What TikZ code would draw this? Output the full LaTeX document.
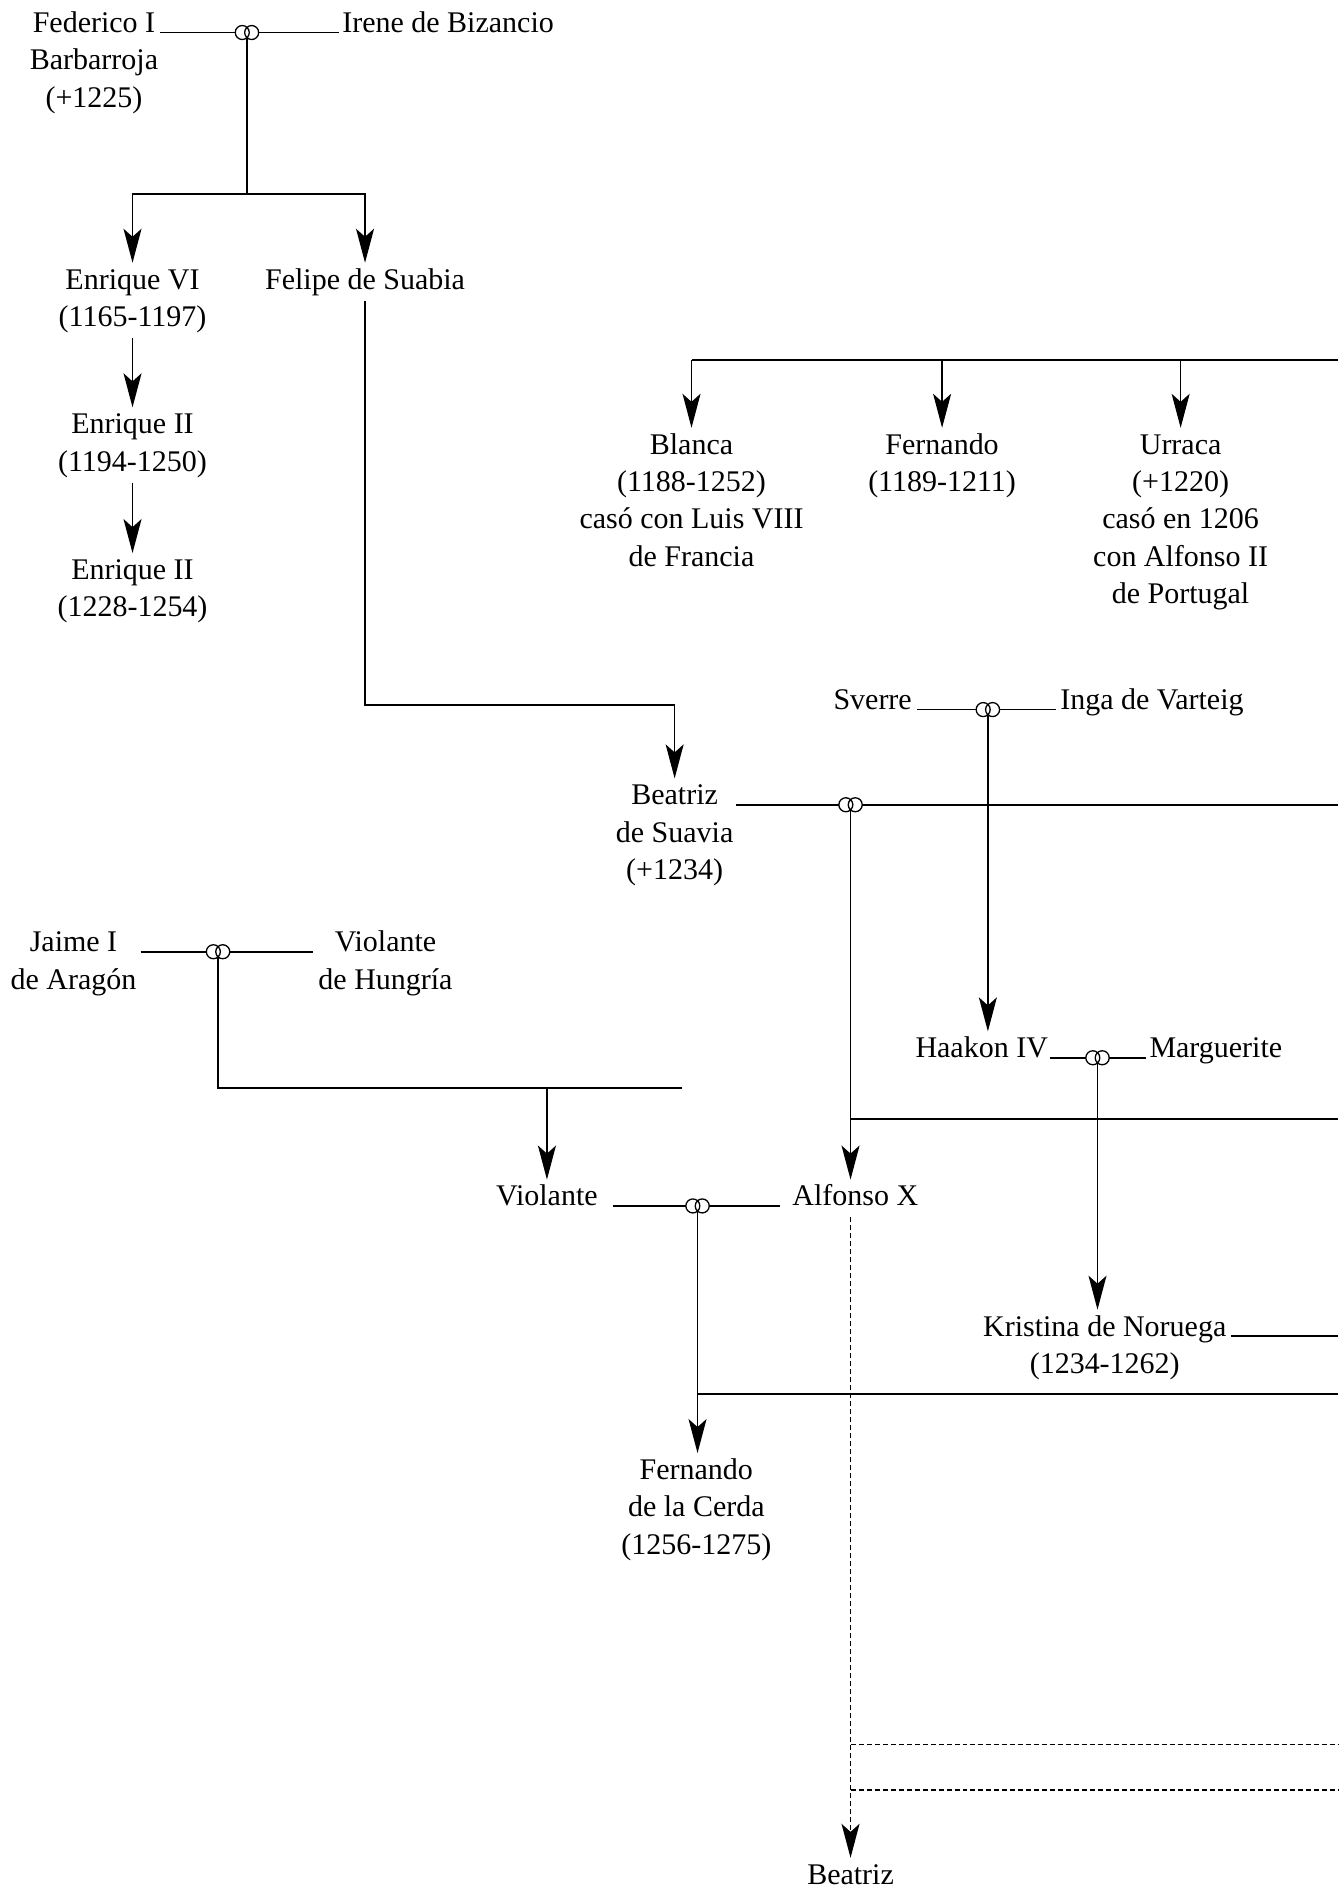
\documentclass[tikz,border=0pt]{standalone}
\usepackage{fontspec}
\setmainfont{Liberation Serif}
\usetikzlibrary{arrows.meta,calc}
\newcommand\ptext[1]{\begin{tabular}[t]{@{}c@{}}#1\end{tabular}}
\tikzset{
 person/.style={inner sep=0pt,font=\fontsize{30}{37.4}\selectfont},
 conn/.style={line width=1.6pt},
 arr/.style={conn,-{Stealth[length=34pt,width=18pt,inset=8pt]}},
 dash line/.style={conn,dash pattern=on 5pt off 3pt},
 ring/.style={line width=1.3pt}
}
\newcommand\rings[1]{%
  \fill[white] ([xshift=-4.7pt]#1) circle (7pt) ([xshift=4.7pt]#1) circle (7pt);
  \draw[ring] ([xshift=-4.7pt]#1) circle (7pt) ([xshift=4.7pt]#1) circle (7pt);}
\begin{document}
\begin{tikzpicture}[x=1.2052pt,y=-1.2052pt]
\useasboundingbox (0,0) rectangle (1111,1568);
\coordinate (E) at (1111,0);
% people
\node[person,anchor=base] (fed) at (78,27) {\ptext{Federico I\\Barbarroja\\(+1225)}};
\node[person,anchor=base west] (irene) at (284,27) {\ptext{Irene de Bizancio}};
\coordinate (m1) at (205,27);
\coordinate (b1) at (205,161);
\node[person,anchor=base] (enr6) at (110,240) {\ptext{Enrique VI\\(1165-1197)}};
\node[person,anchor=base] (felipe) at (303,240) {\ptext{Felipe de Suabia}};
\node[person,anchor=base] (enr2a) at (110,360) {\ptext{Enrique II\\(1194-1250)}};
\node[person,anchor=base] (enr2b) at (110,481) {\ptext{Enrique II\\(1228-1254)}};
\node[person,anchor=base] (blanca) at (574,377) {\ptext{Blanca\\(1188-1252)\\casó con Luis VIII\\de Francia}};
\node[person,anchor=base] (fern) at (782,377) {\ptext{Fernando\\(1189-1211)}};
\node[person,anchor=base] (urraca) at (980,377) {\ptext{Urraca\\(+1220)\\casó en 1206\\con Alfonso II\\de Portugal}};
\coordinate (tr) at (574,299);
\node[person,anchor=base east] (sverre) at (757,589) {\ptext{Sverre}};
\coordinate (ms) at (820,589);
\node[person,anchor=base west] (inga) at (880,589) {\ptext{Inga de Varteig}};
\node[person,anchor=base] (bea) at (560,668) {\ptext{Beatriz\\de Suavia\\(+1234)}};
\coordinate (mb) at (706,668);
\coordinate (fb) at (303,585);
\coordinate (hk) at (706,929);
\node[person,anchor=base east] (haakon) at (870,878) {\ptext{Haakon IV}};
\coordinate (mh) at (911,878);
\node[person,anchor=base west] (marg) at (954,878) {\ptext{Marguerite}};
\node[person,anchor=base] (kris) at (917,1109) {\ptext{Kristina de Noruega\\(1234-1262)}};
\node[person,anchor=base] (jaime) at (61,790) {\ptext{Jaime I\\de Aragón}};
\coordinate (mj) at (181,790);
\node[person,anchor=base] (vhung) at (320,790) {\ptext{Violante\\de Hungría}};
\coordinate (jv) at (181,903);
\coordinate (jvend) at (566,903);
\node[person,anchor=base] (vio) at (454,1001) {\ptext{Violante}};
\coordinate (mv) at (579,1001);
\node[person,anchor=base] (alf) at (710,1001) {\ptext{Alfonso X}};
\coordinate (fk) at (579,1157);
\node[person,anchor=base] (fdc) at (578,1228) {\ptext{Fernando\\de la Cerda\\(1256-1275)}};
\node[person,anchor=base] (bea2) at (706,1564) {\ptext{Beatriz}};
\coordinate (d1) at (706,1448);
\coordinate (d2) at (706,1486);
% connectors
\draw[conn] ([xshift=2pt]fed.base east) -- (m1) -- ([xshift=-3pt]irene.base west);
\draw[conn] (m1) -- (b1);
\draw[arr] (b1) -| (enr6.north);
\draw[arr] (b1) -| (felipe.north);
\draw[arr] (enr6.south) -- (enr2a.north);
\draw[arr] (enr2a.south) -- (enr2b.north);
\draw[arr] (felipe.south) -- (fb) -| (bea.north);
\draw[conn] (tr) -- (tr -| E);
\draw[arr] (tr) -- (blanca.north);
\draw[arr] (tr -| fern.north) -- (fern.north);
\draw[arr] (tr -| urraca.north) -- (urraca.north);
\draw[conn] ([xshift=5pt]sverre.base east) -- (ms) -- ([xshift=-4pt]inga.base west);
\draw[arr] (ms) -- (ms |- haakon.north);
\draw[conn] ([xshift=2pt]bea.base east) -- (mb) -- (mb -| E);
\draw[arr] (mb) -- (mb |- alf.north);
\draw[conn] (hk) -- (hk -| E);
\draw[conn] ([xshift=2pt]haakon.base east) -- (mh) -- ([xshift=-3pt]marg.base west);
\draw[arr] (mh) -- (mh |- kris.north);
\draw[conn] ([xshift=4pt]kris.base east) -- (kris.base east -| E);
\draw[conn] ([xshift=4pt]jaime.base east) -- (mj) -- ([xshift=-5pt]vhung.base west);
\draw[conn] (mj) -- (jv) -- (jvend);
\draw[arr] (jv -| vio.north) -- (vio.north);
\draw[conn] ([xshift=15pt]vio.base east) -- (mv) -- ([xshift=-12pt]alf.base west);
\draw[arr] (mv) -- (mv |- fdc.north);
\draw[conn] (fk) -- (fk -| E);
\draw[arr,dash line] (mb |- alf.south) -- (mb |- bea2.north);
\draw[dash line] (d1) -- (d1 -| E);
\draw[dash line] (d2) -- (d2 -| E);
% rings
\rings{m1}\rings{ms}\rings{mb}\rings{mh}\rings{mj}\rings{mv}
\end{tikzpicture}
\end{document}
